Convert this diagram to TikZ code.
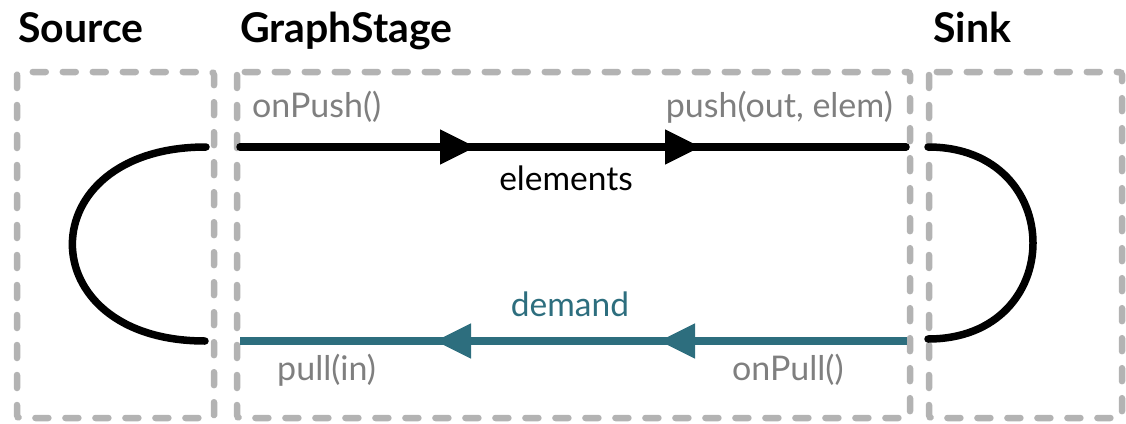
\documentclass[tikz,border=0pt]{standalone}
\usepackage{fontspec}
\setmainfont{Lato}
\usetikzlibrary{arrows.meta,decorations.markings}

\definecolor{boxgray}{HTML}{B3B3B3}
\definecolor{callgray}{HTML}{7F7F7F}
\definecolor{demandteal}{HTML}{2D6E7E}

\tikzset{
  stagebox/.style={draw=boxgray,line width=6.5pt,line cap=round,
    dash pattern=on 13pt off 17pt,rounded corners=3pt},
  stagetitle/.style={font=\bfseries\fontsize{41}{45}\selectfont,anchor=base west,inner sep=0pt},
  callname/.style={text=callgray,font=\fontsize{34}{38}\selectfont,inner sep=0pt},
  flowname/.style={font=\fontsize{33.5}{38}\selectfont,anchor=base,inner sep=0pt},
  flowline/.style={line width=7.5pt,line cap=round},
  flowtip/.tip={Triangle[length=36pt,width=33pt]},
}

\begin{document}
\begin{tikzpicture}[x=1pt,y=-1pt]
  \useasboundingbox (0,0) rectangle (1126,423);

  % the three stages
  \draw[stagebox] (17,72) rectangle (214,418);
  \draw[stagebox] (237,72) rectangle (910,418);
  \draw[stagebox] (929,72) rectangle (1122,418);
  \node[stagetitle] (source) at (18,42) {Source};
  \node[stagetitle] (stage) at (240,42) {GraphStage};
  \node[stagetitle] (sink) at (933,42) {Sink};

  % ports
  \coordinate (srcout) at (206,147);
  \coordinate (srcin) at (205,341);
  \coordinate (stin) at (240,147);
  \coordinate (stout) at (906,147);
  \coordinate (stpullout) at (907,341);
  \coordinate (stpullin) at (240,341);
  \coordinate (sinkin) at (928,147);
  \coordinate (sinkout) at (928,339);

  % elements, left to right
  \draw[flowline,decoration={markings,
      mark=at position 236pt with {\arrow{flowtip}},
      mark=at position 461pt with {\arrow{flowtip}}},postaction={decorate}]
    (stin) -- (stout);
  % demand, right to left
  \draw[flowline,demandteal,line cap=butt,decoration={markings,
      mark=at position 248pt with {\arrow{flowtip}},
      mark=at position 472pt with {\arrow{flowtip}}},postaction={decorate}]
    (stpullout) -- (stpullin);

  % loops through source and sink
  \draw[flowline] (srcout) .. controls (28,147) and (28,341) .. (srcin);
  \draw[flowline] (sinkin) .. controls (1068,147) and (1068,339) .. (sinkout);

  % labels
  \node[callname,anchor=base west] (onpush) at (252,117) {onPush()};
  \node[callname,anchor=base east] (push) at (893,117) {push(out, elem)};
  \node[flowname] (elements) at (566,190) {elements};
  \node[flowname,text=demandteal] (demand) at (570,316) {demand};
  \node[callname,anchor=base west] (pull) at (277,380) {pull(in)};
  \node[callname,anchor=base west] (onpull) at (732,380) {onPull()};
\end{tikzpicture}
\end{document}
